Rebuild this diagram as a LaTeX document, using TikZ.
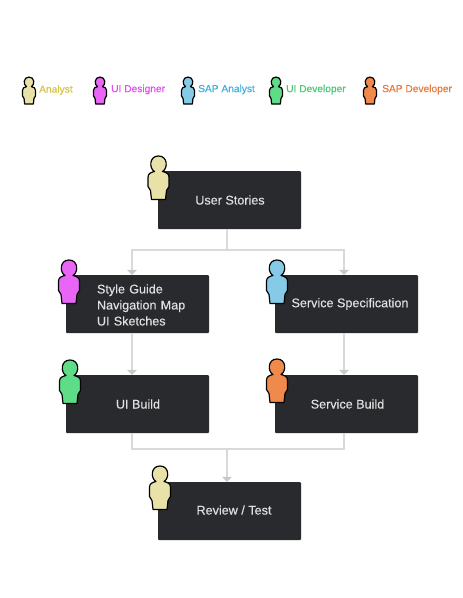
\documentclass[tikz,border=0pt]{standalone}
\usepackage{fontspec}
\usepackage{xcolor}
\usepackage{tikz}
\usetikzlibrary{arrows.meta}
\setmainfont{Liberation Sans}
\newfontfamily\mediumfont[FakeBold=0.35]{Liberation Sans}
\definecolor{boxdark}{HTML}{292A2E}
\definecolor{linegrey}{HTML}{D9D9D9}
\definecolor{tipgrey}{HTML}{C8C8C8}
\definecolor{fillanalyst}{HTML}{E8E2A8}
\definecolor{filldesigner}{HTML}{E865F5}
\definecolor{fillsap}{HTML}{85CBE8}
\definecolor{filluidev}{HTML}{5FDC88}
\definecolor{fillsapdev}{HTML}{F0894C}
\definecolor{textanalyst}{HTML}{D4C44C}
\definecolor{textdesigner}{HTML}{E44CF0}
\definecolor{textsap}{HTML}{3FB0E0}
\definecolor{textuidev}{HTML}{4CC878}
\definecolor{textsapdev}{HTML}{E87A3C}
\tikzset{
    taskbox/.style={fill=boxdark, text=white!88!black, rounded corners=1pt, minimum width=143pt, minimum height=58pt, inner sep=0pt, font=\mediumfont\fontsize{12.6pt}{16pt}\selectfont},
    legendtext/.style={anchor=west, inner sep=0pt, font=\mediumfont\fontsize{10.2pt}{12pt}\selectfont},
    flowline/.style={draw=linegrey, line width=2pt},
    flowarrow/.style={flowline, -{Triangle[length=5pt,width=10pt,color=tipgrey]}},
    person/.pic={
        \draw[black, line width=1.2pt, line join=round, fill=#1]
            (-4,-7) .. controls (-9.5,-10) and (-9.5,-22.5) .. (0,-22.5)
            .. controls (9.5,-22.5) and (9.5,-10) .. (4,-7)
            .. controls (8,-6) and (10.5,-5) .. (10.5,-1)
            -- (10.5,8) .. controls (10.5,10) and (8,10) .. (8,12)
            -- (7,21) -- (-7,21) -- (-8,12)
            .. controls (-8,10) and (-10.5,10) .. (-10.5,8)
            -- (-10.5,-1) .. controls (-10.5,-5) and (-8,-6) .. (-4,-7) -- cycle;
    }
}
\begin{document}
\begin{tikzpicture}[x=1pt, y=-1pt]
    \useasboundingbox (0,0) rectangle (463,598);
    \fill[white] (0,0) rectangle (463,598);
    % legend
    \pic[scale=.62] (keyAnalyst) at (29,91) {person=fillanalyst};
    \node[legendtext, text=textanalyst] (labelAnalyst) at (39,90) {Analyst};
    \pic[scale=.62] (keyDesigner) at (100,91) {person=filldesigner};
    \node[legendtext, text=textdesigner] (labelDesigner) at (111,89.5) {UI Designer};
    \pic[scale=.62] (keySap) at (188,91) {person=fillsap};
    \node[legendtext, text=textsap] (labelSap) at (198,89.5) {SAP Analyst};
    \pic[scale=.62] (keyUiDev) at (276,91) {person=filluidev};
    \node[legendtext, text=textuidev] (labelUiDev) at (286,89.5) {UI Developer};
    \pic[scale=.62] (keySapDev) at (370,91) {person=fillsapdev};
    \node[legendtext, text=textsapdev] (labelSapDev) at (382,89.5) {SAP Developer};
    % boxes
    \node[taskbox] (stories) at (229.5,200) {\hspace{1pt}User Stories};
    \node[taskbox, align=left, text width=143pt] (guide) at (137.5,304) {\rule{0pt}{11pt}\hspace*{31pt}Style Guide\\\hspace*{31pt}Navigation Map\\\hspace*{31pt}UI Sketches};
    \node[taskbox] (spec) at (346.5,304) {\hspace{7pt}\raisebox{1pt}{Service Specification}};
    \node[taskbox] (uibuild) at (137.5,404) {\hspace{1pt}\raisebox{-1pt}{UI Build}};
    \node[taskbox] (servicebuild) at (346.5,404) {\hspace{2pt}\raisebox{-1pt}{Service Build}};
    \node[taskbox] (review) at (229.5,511) {\hspace{9pt}\raisebox{2pt}{Review / Test}};
    % connectors
    \coordinate (splitTop) at (227,250);
    \coordinate (splitLeft) at (132,250);
    \coordinate (splitRight) at (344,250);
    \coordinate (joinLow) at (227,449);
    \coordinate (joinLeft) at (132,449);
    \coordinate (joinRight) at (344,449);
    \draw[flowline] (stories.south -| splitTop) -- (splitTop);
    \draw[flowarrow] (splitTop) -- (splitLeft) -- (guide.north -| splitLeft);
    \draw[flowarrow] (splitTop) -- (splitRight) -- (spec.north -| splitRight);
    \draw[flowarrow] (guide.south -| splitLeft) -- (uibuild.north -| splitLeft);
    \draw[flowarrow] (spec.south -| splitRight) -- (servicebuild.north -| splitRight);
    \draw[flowline] (uibuild.south -| joinLeft) -- (joinLeft) -- (joinRight) -- (servicebuild.south -| joinRight);
    \draw[flowarrow] (joinLow) -- (review.north -| joinLow);
    % people
    \pic (roleStories) at (158.5,178.5) {person=fillanalyst};
    \pic (roleGuide) at (69,282.5) {person=filldesigner};
    \pic (roleSpec) at (277,282.5) {person=fillsap};
    \pic (roleUiBuild) at (70,382.5) {person=filluidev};
    \pic (roleServiceBuild) at (277,381.5) {person=fillsapdev};
    \pic (roleReview) at (160,488.5) {person=fillanalyst};
\end{tikzpicture}
\end{document}
